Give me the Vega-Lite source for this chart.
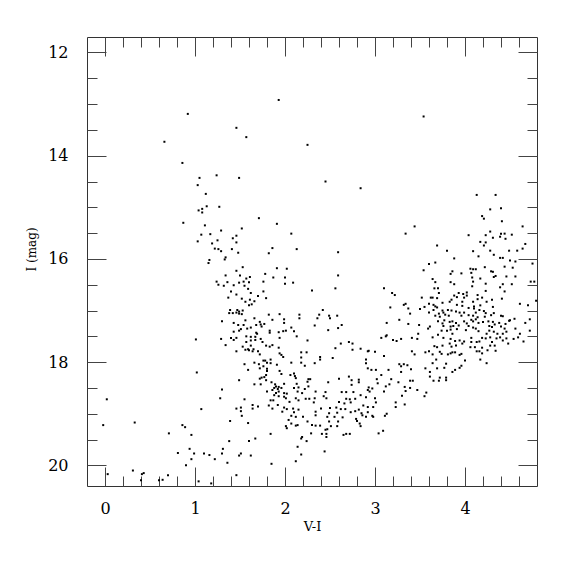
{
"$schema": "https://vega.github.io/schema/vega-lite/v6.json",
"width": 450, "height": 449,
"autosize": {"type": "none"},
"padding": {"left": 87, "top": 37, "right": 38, "bottom": 89},
"background": "white",
"config": {
 "view": {"stroke": "#333", "strokeWidth": 1},
 "axis": {"grid": false, "domain": false, "labelFont": "DejaVu Serif", "titleFont": "DejaVu Serif", "labelColor": "#000", "titleColor": "#000", "tickColor": "#444", "tickWidth": 1, "titleFontWeight": "normal"}
},
"data": {"values": [
{"vi":0.92,"i":13.19},{"vi":1.46,"i":13.46},{"vi":0.66,"i":13.73},{"vi":0.86,"i":14.14},{"vi":1.05,"i":14.43},{"vi":1.24,"i":14.38},{"vi":1.03,"i":14.57},
{"vi":1.93,"i":12.92},{"vi":3.54,"i":13.24},{"vi":1.57,"i":13.64},{"vi":2.25,"i":13.79},{"vi":1.49,"i":14.43},{"vi":2.45,"i":14.50},
{"vi":1.12,"i":14.74},{"vi":1.13,"i":14.98},{"vi":1.04,"i":15.06},{"vi":1.08,"i":15.03},{"vi":1.08,"i":15.10},{"vi":1.27,"i":14.99},{"vi":0.87,"i":15.30},{"vi":1.11,"i":15.35},{"vi":1.29,"i":15.45},{"vi":1.07,"i":15.53},{"vi":1.17,"i":15.52},{"vi":1.03,"i":15.66},{"vi":1.25,"i":15.64},{"vi":1.42,"i":15.60},{"vi":1.46,"i":15.55},{"vi":1.46,"i":15.68},{"vi":1.19,"i":15.70},{"vi":1.22,"i":15.80},{"vi":1.26,"i":15.81},{"vi":1.29,"i":15.85},{"vi":1.41,"i":15.81},{"vi":1.34,"i":15.97},{"vi":1.33,"i":16.01},{"vi":1.16,"i":16.02},{"vi":1.15,"i":16.08},{"vi":1.46,"i":16.23},{"vi":1.34,"i":16.32},{"vi":1.24,"i":16.44},{"vi":1.26,"i":16.50},{"vi":1.32,"i":16.52},{"vi":1.36,"i":16.45},{"vi":1.43,"i":16.51},{"vi":1.40,"i":16.63},{"vi":1.46,"i":16.69},{"vi":1.37,"i":16.75},{"vi":1.39,"i":16.99},{"vi":1.38,"i":17.05},{"vi":1.42,"i":17.05},{"vi":1.46,"i":17.04},{"vi":1.30,"i":17.21},{"vi":1.43,"i":17.24},{"vi":1.43,"i":17.41},
{"vi":1.01,"i":17.56},{"vi":1.29,"i":17.55},{"vi":1.40,"i":17.53},{"vi":1.43,"i":17.57},{"vi":1.46,"i":17.53},{"vi":1.34,"i":17.67},{"vi":1.46,"i":17.79},{"vi":1.02,"i":18.20},{"vi":1.30,"i":18.53},{"vi":1.28,"i":18.70},{"vi":0.02,"i":18.72},{"vi":1.07,"i":18.91},{"vi":1.46,"i":18.90},{"vi":1.39,"i":19.14},{"vi":-0.02,"i":19.22},{"vi":0.33,"i":19.17},{"vi":0.86,"i":19.22},{"vi":0.89,"i":19.26},{"vi":0.71,"i":19.38},{"vi":0.96,"i":19.41},{"vi":1.38,"i":19.53},{"vi":0.94,"i":19.68},{"vi":1.31,"i":19.68},{"vi":0.81,"i":19.76},{"vi":0.99,"i":19.77},{"vi":1.10,"i":19.77},{"vi":1.16,"i":19.80},{"vi":1.30,"i":19.77},{"vi":0.96,"i":19.88},{"vi":1.22,"i":19.88},{"vi":1.36,"i":19.95},{"vi":0.90,"i":20.00},{"vi":0.03,"i":20.17},{"vi":0.31,"i":20.10},{"vi":0.41,"i":20.17},{"vi":0.43,"i":20.15},{"vi":0.40,"i":20.29},{"vi":0.60,"i":20.29},{"vi":0.64,"i":20.28},{"vi":0.70,"i":20.19},{"vi":1.04,"i":20.31},{"vi":1.18,"i":20.35},{"vi":1.46,"i":20.19},
{"vi":2.84,"i":14.63},{"vi":1.71,"i":15.21},{"vi":1.91,"i":15.32},{"vi":1.52,"i":15.41},{"vi":2.07,"i":15.51},{"vi":1.86,"i":15.79},{"vi":2.13,"i":15.81},{"vi":1.82,"i":15.89},{"vi":1.48,"i":15.88},{"vi":2.59,"i":15.87},{"vi":1.53,"i":16.16},{"vi":1.91,"i":16.18},{"vi":2.02,"i":16.19},{"vi":1.78,"i":16.29},{"vi":1.50,"i":16.32},{"vi":1.61,"i":16.35},{"vi":1.57,"i":16.38},{"vi":1.87,"i":16.36},{"vi":2.00,"i":16.36},{"vi":2.59,"i":16.32},{"vi":1.54,"i":16.44},{"vi":1.49,"i":16.46},{"vi":1.60,"i":16.45},{"vi":1.76,"i":16.44},{"vi":2.00,"i":16.48},{"vi":2.09,"i":16.46},{"vi":1.55,"i":16.52},{"vi":1.59,"i":16.58},{"vi":1.62,"i":16.66},{"vi":1.76,"i":16.63},{"vi":2.30,"i":16.61},{"vi":2.56,"i":16.57},{"vi":3.10,"i":16.57},{"vi":1.70,"i":16.72},{"vi":1.79,"i":16.76},{"vi":1.52,"i":16.77},{"vi":1.61,"i":16.79},{"vi":1.66,"i":16.82},{"vi":1.56,"i":16.83},{"vi":1.63,"i":16.88},{"vi":1.60,"i":16.90},{"vi":1.47,"i":16.99},{"vi":1.49,"i":17.02},{"vi":1.53,"i":17.00},{"vi":1.49,"i":17.06},{"vi":1.52,"i":17.07},{"vi":1.66,"i":17.15},{"vi":1.82,"i":17.08},{"vi":1.94,"i":17.07},{"vi":2.16,"i":17.08},{"vi":2.16,"i":17.15},{"vi":2.42,"i":16.99},{"vi":2.38,"i":17.08},{"vi":2.36,"i":17.15},{"vi":2.49,"i":17.10},{"vi":2.50,"i":17.15},{"vi":2.58,"i":17.10},{"vi":1.86,"i":17.18},{"vi":1.99,"i":17.17},{"vi":1.72,"i":17.22},{"vi":1.56,"i":17.19},{"vi":1.48,"i":17.28},{"vi":1.54,"i":17.28},{"vi":1.68,"i":17.28},{"vi":1.73,"i":17.27},{"vi":1.74,"i":17.31},{"vi":1.77,"i":17.26},{"vi":1.99,"i":17.24},{"vi":2.33,"i":17.29},{"vi":2.63,"i":17.28},{"vi":1.62,"i":17.33},{"vi":1.58,"i":17.35},{"vi":1.51,"i":17.36},{"vi":1.49,"i":17.39},{"vi":1.83,"i":17.39},{"vi":1.83,"i":17.43},{"vi":1.93,"i":17.42},{"vi":1.98,"i":17.40},{"vi":2.01,"i":17.39},{"vi":2.07,"i":17.33},{"vi":2.10,"i":17.40},{"vi":2.48,"i":17.38},{"vi":2.59,"i":17.34},{"vi":1.68,"i":17.43},{"vi":1.69,"i":17.45},{"vi":3.13,"i":17.24},{"vi":3.13,"i":17.48},
{"vi":1.57,"i":17.50},{"vi":1.62,"i":17.51},{"vi":1.67,"i":17.51},{"vi":1.94,"i":17.53},{"vi":2.13,"i":17.50},{"vi":1.57,"i":17.61},{"vi":1.62,"i":17.58},{"vi":1.67,"i":17.57},{"vi":1.73,"i":17.55},{"vi":1.75,"i":17.61},{"vi":2.25,"i":17.58},{"vi":2.71,"i":17.61},{"vi":2.75,"i":17.64},{"vi":2.62,"i":17.64},{"vi":3.07,"i":17.53},{"vi":3.12,"i":17.50},{"vi":1.53,"i":17.70},{"vi":1.62,"i":17.68},{"vi":1.79,"i":17.68},{"vi":1.83,"i":17.70},{"vi":1.86,"i":17.67},{"vi":1.93,"i":17.72},{"vi":2.56,"i":17.73},{"vi":2.75,"i":17.76},{"vi":2.84,"i":17.74},{"vi":2.92,"i":17.79},{"vi":2.93,"i":17.78},{"vi":3.00,"i":17.80},{"vi":1.56,"i":17.76},{"vi":1.59,"i":17.75},{"vi":1.60,"i":17.77},{"vi":1.65,"i":17.75},{"vi":1.64,"i":17.79},{"vi":1.70,"i":17.79},{"vi":1.94,"i":17.83},{"vi":1.96,"i":17.86},{"vi":2.18,"i":17.81},{"vi":2.24,"i":17.81},{"vi":1.72,"i":17.85},{"vi":2.18,"i":17.91},{"vi":1.98,"i":17.90},{"vi":2.39,"i":17.90},{"vi":2.39,"i":17.95},{"vi":2.53,"i":17.92},{"vi":3.10,"i":17.88},{"vi":1.76,"i":17.97},{"vi":1.78,"i":17.97},{"vi":1.84,"i":17.95},{"vi":1.84,"i":18.02},{"vi":1.66,"i":18.01},{"vi":1.71,"i":18.04},{"vi":1.80,"i":18.01},{"vi":2.07,"i":18.01},{"vi":2.18,"i":18.01},{"vi":2.33,"i":18.02},{"vi":2.90,"i":17.95},{"vi":2.90,"i":18.02},{"vi":1.55,"i":18.04},{"vi":1.91,"i":18.05},{"vi":2.22,"i":18.07},{"vi":2.92,"i":18.12},{"vi":2.96,"i":18.15},{"vi":3.01,"i":18.15},{"vi":1.59,"i":18.15},{"vi":1.72,"i":18.12},{"vi":1.76,"i":18.08},{"vi":1.80,"i":18.13},{"vi":1.80,"i":18.17},{"vi":1.94,"i":18.17},{"vi":1.96,"i":18.23},{"vi":2.06,"i":18.25},{"vi":2.10,"i":18.22},{"vi":2.11,"i":18.27},{"vi":1.79,"i":18.25},{"vi":3.07,"i":18.25},{"vi":1.74,"i":18.30},{"vi":1.77,"i":18.29},{"vi":1.72,"i":18.32},{"vi":1.79,"i":18.35},{"vi":2.12,"i":18.31},{"vi":2.26,"i":18.33},{"vi":2.28,"i":18.33},{"vi":2.60,"i":18.32},{"vi":2.71,"i":18.28},{"vi":2.82,"i":18.34},{"vi":1.49,"i":18.35},{"vi":2.74,"i":18.35},{"vi":3.02,"i":18.33},{"vi":1.85,"i":18.39},{"vi":2.25,"i":18.38},{"vi":2.48,"i":18.39},{"vi":2.82,"i":18.39},{"vi":2.74,"i":18.44},{"vi":1.66,"i":18.43},{"vi":1.73,"i":18.43},{"vi":1.89,"i":18.43},{"vi":1.99,"i":18.42},{"vi":1.90,"i":18.47},{"vi":1.93,"i":18.48},{"vi":1.88,"i":18.50},{"vi":1.96,"i":18.50},{"vi":2.13,"i":18.42},{"vi":2.15,"i":18.49},{"vi":2.10,"i":18.50},{"vi":2.26,"i":18.47},{"vi":2.22,"i":18.52},{"vi":2.93,"i":18.49},{"vi":2.92,"i":18.54},{"vi":2.97,"i":18.51},{"vi":3.03,"i":18.41},{"vi":3.12,"i":18.47},{"vi":1.86,"i":18.54},{"vi":1.92,"i":18.52},{"vi":1.93,"i":18.57},{"vi":1.80,"i":18.57},{"vi":1.90,"i":18.60},{"vi":1.99,"i":18.60},{"vi":2.02,"i":18.61},{"vi":2.14,"i":18.57},{"vi":2.19,"i":18.60},{"vi":2.34,"i":18.57},{"vi":2.45,"i":18.58},{"vi":2.63,"i":18.58},{"vi":2.68,"i":18.58},{"vi":2.76,"i":18.58},{"vi":2.94,"i":18.57},{"vi":3.10,"i":18.57},{"vi":1.55,"i":18.72},{"vi":1.88,"i":18.64},{"vi":1.93,"i":18.66},{"vi":1.99,"i":18.67},{"vi":2.01,"i":18.70},{"vi":2.12,"i":18.70},{"vi":2.15,"i":18.74},{"vi":2.23,"i":18.71},{"vi":2.27,"i":18.71},{"vi":2.33,"i":18.70},{"vi":2.43,"i":18.66},{"vi":2.84,"i":18.64},{"vi":2.68,"i":18.71},{"vi":2.72,"i":18.72},{"vi":2.78,"i":18.71},{"vi":2.90,"i":18.68},{"vi":1.84,"i":18.74},{"vi":1.87,"i":18.74},{"vi":2.05,"i":18.77},{"vi":2.32,"i":18.78},{"vi":2.46,"i":18.70},{"vi":2.60,"i":18.77},{"vi":2.66,"i":18.80},{"vi":2.73,"i":18.78},{"vi":3.00,"i":18.70},{"vi":3.01,"i":18.78},{"vi":2.98,"i":18.87},{"vi":2.92,"i":18.87},{"vi":2.87,"i":18.84},{"vi":2.82,"i":18.92},{"vi":1.64,"i":18.83},{"vi":1.64,"i":18.90},{"vi":1.70,"i":18.86},{"vi":1.82,"i":18.84},{"vi":1.92,"i":18.83},{"vi":1.86,"i":18.90},{"vi":1.99,"i":18.88},{"vi":2.02,"i":18.91},{"vi":2.09,"i":18.90},{"vi":2.15,"i":18.92},{"vi":2.40,"i":18.90},{"vi":2.50,"i":18.89},{"vi":2.57,"i":18.88},{"vi":2.62,"i":18.91},{"vi":2.67,"i":18.91},{"vi":1.51,"i":18.88},{"vi":1.51,"i":18.95},{"vi":1.52,"i":19.04},{"vi":1.97,"i":18.96},{"vi":2.10,"i":18.97},{"vi":2.34,"i":18.96},{"vi":2.49,"i":18.99},{"vi":2.58,"i":18.98},{"vi":2.73,"i":18.97},{"vi":2.78,"i":18.95},{"vi":2.85,"i":18.99},{"vi":2.92,"i":18.97},{"vi":2.86,"i":19.03},{"vi":2.90,"i":19.06},{"vi":2.97,"i":19.04},{"vi":2.98,"i":19.06},{"vi":3.11,"i":19.04},{"vi":2.34,"i":19.03},{"vi":2.07,"i":19.04},{"vi":2.12,"i":19.06},{"vi":2.20,"i":19.06},{"vi":2.47,"i":19.06},{"vi":2.55,"i":19.06},{"vi":2.64,"i":19.07},{"vi":2.79,"i":19.10},{"vi":2.80,"i":19.14},{"vi":2.83,"i":19.19},{"vi":2.84,"i":19.24},{"vi":2.04,"i":19.12},{"vi":2.25,"i":19.15},{"vi":2.49,"i":19.15},{"vi":2.59,"i":19.15},{"vi":2.07,"i":19.19},{"vi":2.12,"i":19.23},{"vi":2.14,"i":19.22},{"vi":2.30,"i":19.22},{"vi":2.34,"i":19.23},{"vi":2.39,"i":19.23},{"vi":2.51,"i":19.24},{"vi":2.58,"i":19.24},{"vi":1.59,"i":19.18},{"vi":2.01,"i":19.24},{"vi":2.02,"i":19.28},{"vi":2.45,"i":19.31},{"vi":2.47,"i":19.30},{"vi":3.09,"i":19.33},{"vi":3.04,"i":19.38},{"vi":2.29,"i":19.38},{"vi":2.41,"i":19.39},{"vi":2.65,"i":19.41},{"vi":2.68,"i":19.39},{"vi":2.72,"i":19.39},{"vi":2.46,"i":19.39},{"vi":1.84,"i":19.39},{"vi":2.46,"i":19.45},{"vi":2.19,"i":19.45},{"vi":2.18,"i":19.48},{"vi":1.67,"i":19.48},{"vi":1.60,"i":19.53},{"vi":2.24,"i":19.53},{"vi":2.14,"i":19.64},{"vi":2.44,"i":19.73},{"vi":1.51,"i":19.77},{"vi":1.49,"i":19.81},{"vi":1.62,"i":19.81},{"vi":2.18,"i":19.79},{"vi":2.12,"i":19.92},{"vi":1.85,"i":19.97},
{"vi":4.13,"i":14.76},{"vi":4.34,"i":14.76},{"vi":4.28,"i":15.04},{"vi":4.40,"i":15.02},{"vi":4.19,"i":15.17},{"vi":4.21,"i":15.22},{"vi":4.41,"i":15.27},{"vi":4.64,"i":15.37},{"vi":3.44,"i":15.37},{"vi":3.34,"i":15.51},{"vi":4.04,"i":15.54},{"vi":4.28,"i":15.47},{"vi":4.40,"i":15.51},{"vi":4.44,"i":15.51},{"vi":4.52,"i":15.53},{"vi":4.39,"i":15.57},{"vi":4.45,"i":15.61},{"vi":4.23,"i":15.54},{"vi":4.31,"i":15.59},{"vi":4.17,"i":15.67},{"vi":4.23,"i":15.68},{"vi":4.21,"i":15.74},{"vi":3.69,"i":15.74},{"vi":4.67,"i":15.71},{"vi":4.64,"i":15.80},{"vi":4.58,"i":15.84},{"vi":3.80,"i":15.84},{"vi":4.09,"i":15.85},{"vi":4.28,"i":15.84},{"vi":4.32,"i":15.92},{"vi":4.49,"i":15.84},{"vi":4.15,"i":15.95},{"vi":3.88,"i":15.99},{"vi":4.39,"i":15.98},{"vi":4.42,"i":15.98},{"vi":4.50,"i":16.03},{"vi":4.56,"i":16.05},{"vi":4.75,"i":16.09},{"vi":3.67,"i":16.07},{"vi":3.60,"i":16.10},{"vi":4.06,"i":16.19},{"vi":4.09,"i":16.20},{"vi":4.12,"i":16.20},{"vi":4.22,"i":16.16},{"vi":4.44,"i":16.15},{"vi":4.53,"i":16.17},{"vi":3.54,"i":16.22},{"vi":3.86,"i":16.24},{"vi":3.84,"i":16.29},{"vi":3.96,"i":16.28},{"vi":4.07,"i":16.27},{"vi":4.29,"i":16.24},{"vi":4.31,"i":16.25},{"vi":4.34,"i":16.33},{"vi":4.32,"i":16.35},{"vi":4.46,"i":16.34},{"vi":4.56,"i":16.34},{"vi":3.64,"i":16.39},{"vi":4.08,"i":16.36},{"vi":4.17,"i":16.38},{"vi":3.67,"i":16.45},{"vi":3.84,"i":16.45},{"vi":4.09,"i":16.44},{"vi":4.73,"i":16.44},{"vi":4.77,"i":16.44},{"vi":4.23,"i":16.48},{"vi":3.88,"i":16.49},{"vi":4.42,"i":16.49},{"vi":4.52,"i":16.49},{"vi":4.08,"i":16.53},{"vi":4.39,"i":16.55},{"vi":3.66,"i":16.57},{"vi":3.70,"i":16.57},{"vi":3.71,"i":16.66},{"vi":4.02,"i":16.65},{"vi":3.93,"i":16.66},{"vi":4.23,"i":16.62},{"vi":4.44,"i":16.63},{"vi":3.19,"i":16.66},{"vi":3.22,"i":16.70},{"vi":3.98,"i":16.68},{"vi":4.02,"i":16.71},{"vi":4.14,"i":16.70},{"vi":3.88,"i":16.71},{"vi":3.91,"i":16.74},{"vi":3.99,"i":16.75},{"vi":3.52,"i":16.75},{"vi":3.62,"i":16.75},{"vi":3.64,"i":16.75},{"vi":3.69,"i":16.76},{"vi":3.85,"i":16.79},{"vi":4.14,"i":16.78},{"vi":4.19,"i":16.75},{"vi":4.30,"i":16.79},{"vi":4.41,"i":16.77},{"vi":3.83,"i":16.83},{"vi":3.97,"i":16.83},{"vi":4.09,"i":16.83},{"vi":4.24,"i":16.83},{"vi":4.79,"i":16.81},{"vi":3.34,"i":16.87},{"vi":3.32,"i":16.89},{"vi":3.60,"i":16.87},{"vi":3.75,"i":16.85},{"vi":4.61,"i":16.87},{"vi":3.55,"i":16.93},{"vi":3.65,"i":16.89},{"vi":3.67,"i":16.92},{"vi":3.69,"i":16.94},{"vi":3.91,"i":16.89},{"vi":3.97,"i":16.91},{"vi":4.10,"i":16.92},{"vi":4.17,"i":16.90},{"vi":4.31,"i":16.93},{"vi":3.17,"i":16.94},{"vi":3.37,"i":16.96},{"vi":3.65,"i":16.99},{"vi":3.75,"i":17.00},{"vi":3.81,"i":16.99},{"vi":3.85,"i":17.00},{"vi":4.04,"i":16.95},{"vi":4.10,"i":16.96},{"vi":4.16,"i":16.99},{"vi":4.21,"i":17.01},{"vi":4.70,"i":16.90},{"vi":3.50,"i":16.97},{"vi":3.60,"i":17.04},{"vi":3.71,"i":17.06},{"vi":3.76,"i":17.04},{"vi":3.78,"i":17.08},{"vi":3.90,"i":17.02},{"vi":3.94,"i":17.04},{"vi":3.99,"i":17.04},{"vi":4.12,"i":17.04},{"vi":4.23,"i":17.05},{"vi":4.32,"i":17.05},{"vi":3.39,"i":17.06},{"vi":3.27,"i":17.18},{"vi":3.67,"i":17.10},{"vi":3.72,"i":17.12},{"vi":3.82,"i":17.10},{"vi":3.96,"i":17.10},{"vi":4.04,"i":17.09},{"vi":4.09,"i":17.10},{"vi":4.14,"i":17.13},{"vi":4.22,"i":17.12},{"vi":4.29,"i":17.09},{"vi":4.40,"i":17.10},{"vi":4.42,"i":17.11},{"vi":4.55,"i":17.16},{"vi":4.49,"i":17.20},{"vi":4.67,"i":17.24},{"vi":4.72,"i":17.17},{"vi":3.37,"i":17.26},{"vi":3.49,"i":17.28},{"vi":3.61,"i":17.31},{"vi":3.70,"i":17.21},{"vi":3.75,"i":17.25},{"vi":3.77,"i":17.19},{"vi":3.83,"i":17.22},{"vi":3.86,"i":17.21},{"vi":3.90,"i":17.24},{"vi":3.99,"i":17.21},{"vi":4.02,"i":17.25},{"vi":4.07,"i":17.18},{"vi":4.09,"i":17.21},{"vi":4.12,"i":17.17},{"vi":4.15,"i":17.24},{"vi":4.20,"i":17.22},{"vi":4.26,"i":17.21},{"vi":4.31,"i":17.22},{"vi":4.33,"i":17.27},{"vi":4.38,"i":17.24},{"vi":4.45,"i":17.26},{"vi":4.50,"i":17.19},{"vi":3.76,"i":17.30},{"vi":3.84,"i":17.31},{"vi":3.87,"i":17.30},{"vi":3.93,"i":17.29},{"vi":4.04,"i":17.30},{"vi":4.09,"i":17.33},{"vi":4.12,"i":17.35},{"vi":4.27,"i":17.30},{"vi":4.30,"i":17.32},{"vi":4.40,"i":17.31},{"vi":4.44,"i":17.35},{"vi":4.56,"i":17.35},{"vi":4.72,"i":17.39},{"vi":3.59,"i":17.35},{"vi":3.74,"i":17.39},{"vi":3.80,"i":17.39},{"vi":3.84,"i":17.37},{"vi":3.91,"i":17.36},{"vi":4.01,"i":17.38},{"vi":4.15,"i":17.40},{"vi":4.27,"i":17.39},{"vi":4.32,"i":17.41},{"vi":4.46,"i":17.41},{"vi":4.36,"i":17.45},{"vi":4.42,"i":17.45},{"vi":3.48,"i":17.45},{"vi":3.70,"i":17.47},{"vi":3.86,"i":17.45},{"vi":4.24,"i":17.45},{"vi":4.61,"i":17.45},
{"vi":3.20,"i":17.57},{"vi":3.24,"i":17.59},{"vi":3.29,"i":17.55},{"vi":3.41,"i":17.53},{"vi":3.47,"i":17.55},{"vi":3.64,"i":17.52},{"vi":3.76,"i":17.53},{"vi":3.84,"i":17.55},{"vi":3.89,"i":17.59},{"vi":3.94,"i":17.58},{"vi":3.99,"i":17.60},{"vi":4.07,"i":17.53},{"vi":4.07,"i":17.61},{"vi":4.13,"i":17.61},{"vi":4.16,"i":17.60},{"vi":4.19,"i":17.53},{"vi":4.23,"i":17.54},{"vi":4.28,"i":17.52},{"vi":4.30,"i":17.61},{"vi":4.35,"i":17.54},{"vi":4.39,"i":17.52},{"vi":4.42,"i":17.58},{"vi":4.46,"i":17.54},{"vi":4.48,"i":17.64},{"vi":4.54,"i":17.55},{"vi":4.59,"i":17.52},{"vi":4.65,"i":17.60},{"vi":3.66,"i":17.69},{"vi":3.69,"i":17.71},{"vi":3.75,"i":17.68},{"vi":3.83,"i":17.64},{"vi":3.85,"i":17.70},{"vi":3.90,"i":17.68},{"vi":3.97,"i":17.64},{"vi":4.06,"i":17.71},{"vi":4.11,"i":17.71},{"vi":4.19,"i":17.72},{"vi":4.28,"i":17.68},{"vi":4.33,"i":17.68},{"vi":3.41,"i":17.79},{"vi":3.44,"i":17.85},{"vi":3.56,"i":17.81},{"vi":3.60,"i":17.79},{"vi":3.64,"i":17.85},{"vi":3.72,"i":17.80},{"vi":3.74,"i":17.84},{"vi":3.81,"i":17.85},{"vi":3.84,"i":17.83},{"vi":3.86,"i":17.81},{"vi":3.89,"i":17.81},{"vi":3.94,"i":17.86},{"vi":3.96,"i":17.84},{"vi":4.13,"i":17.79},{"vi":4.16,"i":17.79},{"vi":4.19,"i":17.83},{"vi":4.25,"i":17.77},{"vi":4.34,"i":17.78},{"vi":3.68,"i":17.95},{"vi":3.64,"i":18.02},{"vi":4.00,"i":17.97},{"vi":4.17,"i":17.95},{"vi":4.24,"i":18.02},{"vi":3.27,"i":18.04},{"vi":3.29,"i":18.08},{"vi":3.32,"i":18.04},{"vi":3.36,"i":18.06},{"vi":3.79,"i":18.03},{"vi":3.96,"i":18.07},{"vi":3.56,"i":18.12},{"vi":3.69,"i":18.12},{"vi":3.77,"i":18.11},{"vi":3.89,"i":18.15},{"vi":3.94,"i":18.11},{"vi":3.15,"i":18.15},{"vi":3.40,"i":18.14},{"vi":3.29,"i":18.19},{"vi":3.61,"i":18.19},{"vi":3.86,"i":18.19},{"vi":3.61,"i":18.28},{"vi":3.72,"i":18.30},{"vi":3.79,"i":18.30},{"vi":3.18,"i":18.33},{"vi":3.39,"i":18.36},{"vi":3.42,"i":18.36},{"vi":3.65,"i":18.36},{"vi":3.71,"i":18.36},{"vi":3.79,"i":18.35},{"vi":3.26,"i":18.39},{"vi":3.16,"i":18.43},{"vi":3.33,"i":18.48},{"vi":3.39,"i":18.50},{"vi":3.47,"i":18.54},{"vi":3.34,"i":18.56},{"vi":3.57,"i":18.59},{"vi":3.55,"i":18.66},{"vi":3.30,"i":18.65},{"vi":3.23,"i":18.78},{"vi":3.23,"i":18.87},{"vi":3.33,"i":18.82},{"vi":3.13,"i":19.00}
]},
"resolve": {"axis": {"x": "independent", "y": "independent"}},
"layer": [
 {"mark": {"type": "square", "size": 4, "color": "black", "opacity": 1},
  "encoding": {
   "x": {"field": "vi", "type": "quantitative", "scale": {"domain": [-0.2, 4.8], "nice": false, "zero": false},
         "axis": {"orient": "bottom", "values": [0,1,2,3,4], "ticks": false, "tickSize": 0, "labelPadding": 14, "labelFontSize": 16, "title": "V-I", "titleFontSize": 13, "titlePadding": 4}},
   "y": {"field": "i", "type": "quantitative", "scale": {"domain": [11.7, 20.4], "reverse": true, "nice": false, "zero": false},
         "axis": {"orient": "left", "values": [12,14,16,18,20], "ticks": false, "tickSize": 0, "labelPadding": 19, "labelFontSize": 16, "title": "I (mag)", "titleFontSize": 12, "titlePadding": 9, "titleY": 212}}
  }},
 {"mark": {"type": "point", "opacity": 0},
  "encoding": {
   "x": {"field": "vi", "type": "quantitative", "scale": {"domain": [-0.2, 4.8], "nice": false, "zero": false},
         "axis": {"orient": "bottom", "values": [0,1,2,3,4], "labels": false, "tickSize": -19, "title": null}},
   "y": {"field": "i", "type": "quantitative", "scale": {"domain": [11.7, 20.4], "reverse": true, "nice": false, "zero": false},
         "axis": {"orient": "left", "values": [12,14,16,18,20], "labels": false, "tickSize": -19, "title": null}}
  }},
 {"mark": {"type": "point", "opacity": 0},
  "encoding": {
   "x": {"field": "vi", "type": "quantitative", "scale": {"domain": [-0.2, 4.8], "nice": false, "zero": false},
         "axis": {"orient": "bottom", "values": [0.2,0.4,0.6,0.8,1.2,1.4,1.6,1.8,2.2,2.4,2.6,2.8,3.2,3.4,3.6,3.8,4.2,4.4,4.6], "labels": false, "tickSize": -10, "title": null}},
   "y": {"field": "i", "type": "quantitative", "scale": {"domain": [11.7, 20.4], "reverse": true, "nice": false, "zero": false},
         "axis": {"orient": "left", "values": [12.5,13,13.5,14.5,15,15.5,16.5,17,17.5,18.5,19,19.5], "labels": false, "tickSize": -10, "title": null}}
  }},
 {"mark": {"type": "point", "opacity": 0},
  "encoding": {
   "x": {"field": "vi", "type": "quantitative", "scale": {"domain": [-0.2, 4.8], "nice": false, "zero": false},
         "axis": {"orient": "top", "values": [0,1,2,3,4], "labels": false, "tickSize": -19, "title": null}},
   "y": {"field": "i", "type": "quantitative", "scale": {"domain": [11.7, 20.4], "reverse": true, "nice": false, "zero": false},
         "axis": {"orient": "right", "values": [12,14,16,18,20], "labels": false, "tickSize": -19, "title": null}}
  }},
 {"mark": {"type": "point", "opacity": 0},
  "encoding": {
   "x": {"field": "vi", "type": "quantitative", "scale": {"domain": [-0.2, 4.8], "nice": false, "zero": false},
         "axis": {"orient": "top", "values": [0.2,0.4,0.6,0.8,1.2,1.4,1.6,1.8,2.2,2.4,2.6,2.8,3.2,3.4,3.6,3.8,4.2,4.4,4.6], "labels": false, "tickSize": -10, "title": null}},
   "y": {"field": "i", "type": "quantitative", "scale": {"domain": [11.7, 20.4], "reverse": true, "nice": false, "zero": false},
         "axis": {"orient": "right", "values": [12.5,13,13.5,14.5,15,15.5,16.5,17,17.5,18.5,19,19.5], "labels": false, "tickSize": -10, "title": null}}
  }}
]
}
